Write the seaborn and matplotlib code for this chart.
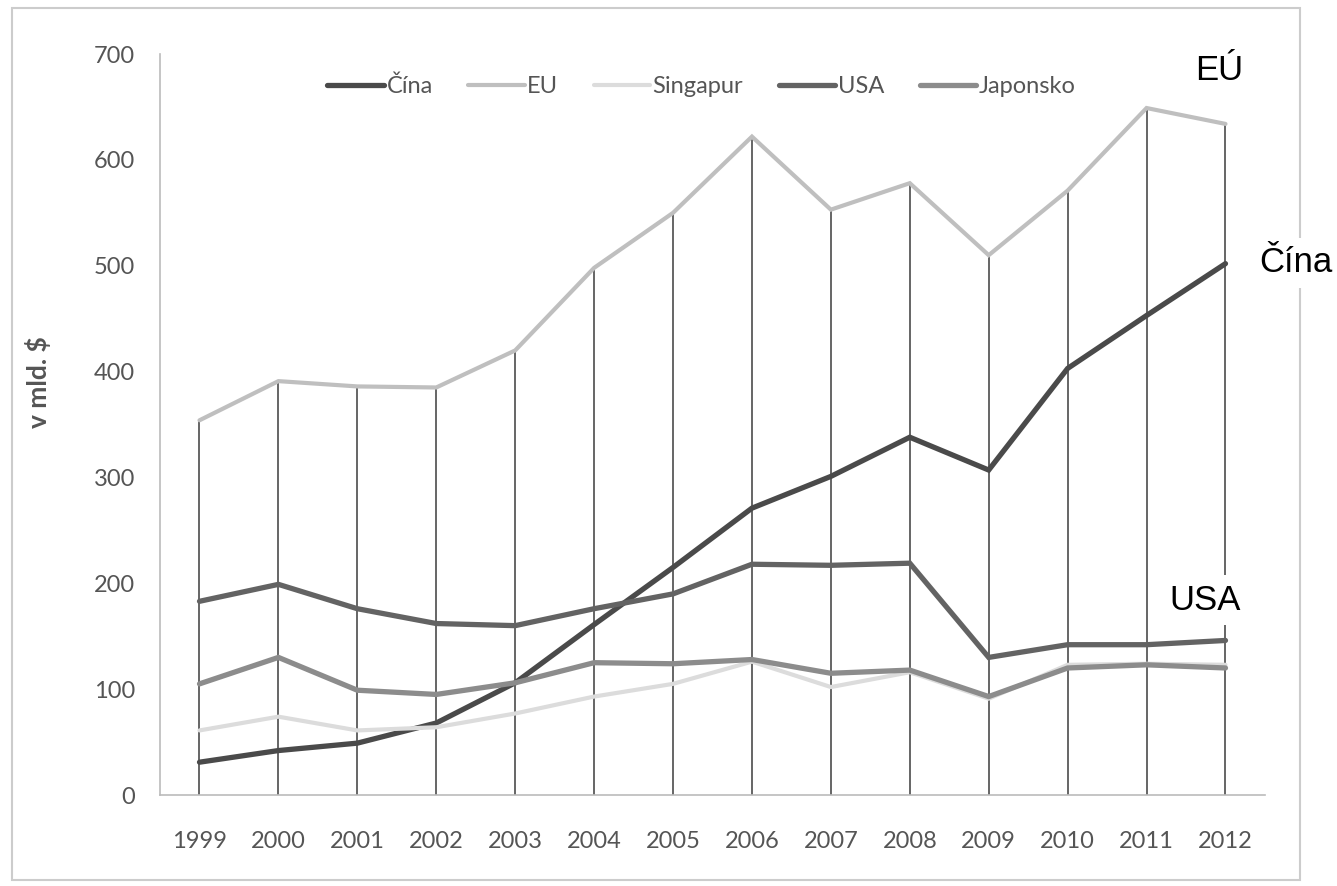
import numpy as np
import pandas as pd
import matplotlib
matplotlib.use("Agg")
import matplotlib.pyplot as plt
from matplotlib.patches import Rectangle
from matplotlib.lines import Line2D
import seaborn as sns

# data (v mld. $)
years = list(range(1999, 2013))
cina = [31, 42, 49, 68, 106, 161, 215, 271, 301, 338, 307, 403, 453, 502]
eu = [354, 391, 386, 385, 420, 498, 550, 622, 553, 578, 510, 571, 649, 634]
singapur = [61, 74, 61, 64, 77, 93, 105, 126, 102, 116, 91, 123, 124, 123]
usa = [183, 199, 176, 162, 160, 176, 190, 218, 217, 219, 130, 142, 142, 146]
japonsko = [105, 130, 99, 95, 106, 125, 124, 128, 115, 118, 93, 120, 123, 120]

series = ["Čína", "EU", "Singapur", "USA", "Japonsko"]
farby = {"Čína": "#4a4a4a", "EU": "#bfbfbf", "Singapur": "#dcdcdc",
         "USA": "#636363", "Japonsko": "#8c8c8c"}
hrubky = {"Čína": 3.8, "EU": 3.0, "Singapur": 3.0, "USA": 3.8, "Japonsko": 3.8}

df = pd.DataFrame({"rok": years, "Čína": cina, "EU": eu, "Singapur": singapur,
                   "USA": usa, "Japonsko": japonsko})
df_long = df.melt(id_vars="rok", var_name="krajina", value_name="hodnota")

sns.set_style("white")
plt.rcParams["font.family"] = ["Lato", "DejaVu Sans"]

fig = plt.figure(figsize=(13.37, 8.86), dpi=100)
ax = fig.add_axes([0.1197, 0.1027, 0.8264, 0.8363])

# zvisle spojnice od osi po najvyssiu hodnotu
ax.vlines(years, 0, df[series].max(axis=1), color="#3c3c3c", linewidth=1.1, zorder=1)

sns.lineplot(data=df_long, x="rok", y="hodnota", hue="krajina", hue_order=series,
             palette=farby, ax=ax, legend=False, zorder=3)
for line, s in zip(ax.get_lines(), series):
    line.set_linewidth(hrubky[s])
    line.set_solid_joinstyle("miter")

# legenda
handles = [Line2D([], [], color=farby[s], linewidth=hrubky[s]) for s in series]
leg = ax.legend(handles, series, loc="upper center", bbox_to_anchor=(0.49, 1.0),
                ncol=5, frameon=False, fontsize=17, handlelength=2.4,
                handletextpad=0.1, columnspacing=1.5)
for t in leg.get_texts():
    t.set_color("#555555")

ax.set_xlim(1998.5, 2012.5)
ax.set_ylim(0, 700)
ax.set_xticks(years)
ax.set_xticklabels([str(r) for r in years])
ax.set_yticks(np.arange(0, 701, 100))
ax.tick_params(axis="both", labelsize=17, colors="#555555")
ax.tick_params(axis="y", length=6, width=1, color="#bbbbbb", pad=12)
ax.tick_params(axis="x", length=0, pad=26)
ax.set_xlabel("")
ax.set_ylabel("v mld. $", fontsize=19, fontweight="bold", color="#555555")
ax.yaxis.set_label_coords(-0.099, 0.557)

for side in ["top", "right"]:
    ax.spines[side].set_visible(False)
ax.spines["left"].set_color("#bbbbbb")
ax.spines["bottom"].set_color("#bbbbbb")
ax.spines["left"].set_linewidth(1.2)
ax.spines["bottom"].set_linewidth(1.2)

# popisky vpravo
box = dict(facecolor="white", edgecolor="none", pad=6)
fig.text(1219 / 1337, 1 - 70 / 886, "EÚ", fontsize=25, family="Liberation Sans",
         ha="center", va="center", color="black", bbox=box, zorder=5)
fig.text(1296 / 1337, 1 - 263 / 886, "Čína", fontsize=25, family="Liberation Sans",
         ha="center", va="center", color="black", bbox=box, zorder=5)
fig.text(1205 / 1337, 1 - 600 / 886, "USA", fontsize=25, family="Liberation Sans",
         ha="center", va="center", color="black", bbox=box, zorder=5)

# ram okolo grafu
fig.patches.append(Rectangle((12 / 1337, 6 / 886), 1288 / 1337, 872 / 886,
                             transform=fig.transFigure, fill=False,
                             edgecolor="#cccccc", linewidth=1.5, zorder=0))

fig.savefig("out.png", dpi=100)
